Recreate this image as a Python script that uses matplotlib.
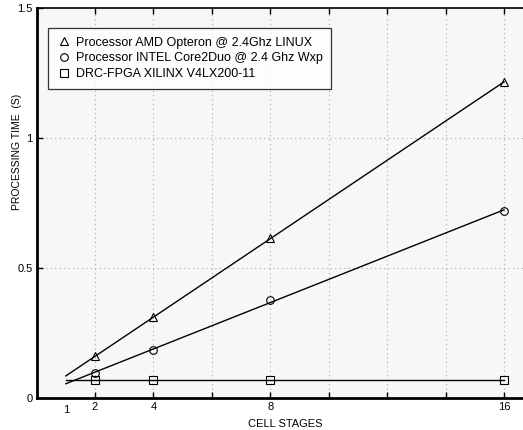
import numpy as np
import matplotlib.pyplot as plt

plt.rcParams['font.family'] = ['Liberation Sans', 'DejaVu Sans']

# cell stages and measured processing times (s)
stages = [2, 4, 8, 16]
amd_time = [0.16, 0.31, 0.615, 1.215]
intel_time = [0.097, 0.185, 0.377, 0.72]
fpga_time = [0.07, 0.07, 0.07, 0.07]

labels = ['Processor AMD Opteron @ 2.4Ghz LINUX',
          'Processor INTEL Core2Duo @ 2.4 Ghz Wxp',
          'DRC-FPGA XILINX V4LX200-11']
markers = ['^', 'o', 's']

fig = plt.figure(figsize=(5.23, 4.30), dpi=100)
ax = fig.add_axes([0.07, 0.0744, 0.9495, 0.907])
ax.set_facecolor('#f7f7f7')

xfit = np.array([1, 16])
for y, m, lab in zip([amd_time, intel_time, fpga_time], markers, labels):
    # least squares line through the points, drawn from 1 to 16 stages
    k, c = np.polyfit(stages, y, 1)
    ax.plot(xfit, k * xfit + c, color='black', lw=1)
    ax.plot(stages, y, linestyle='none', marker=m, markersize=5.5,
            markerfacecolor='none', markeredgecolor='black', mew=0.8, label=lab)

ax.set_xlim(0, 17)
ax.set_ylim(0, 1.5)

ax.set_xticks(np.arange(2, 17, 2))
ax.set_xticklabels(['2', '4', '', '8', '', '', '', '16'])
ax.set_xticks([1], minor=True)
ax.set_xticklabels(['1'], minor=True)
ax.tick_params(axis='x', which='minor', length=0, pad=5)
ax.set_yticks([0, 0.5, 1, 1.5])
ax.set_yticklabels(['0', '0.5', '1', '1.5'])
ax.tick_params(which='major', direction='in', length=4, width=1, top=True,
               labelsize=8, pad=3)
ax.tick_params(axis='x', which='minor', labelsize=8)

ax.grid(True, which='major', linestyle=(0, (1, 3)), color='#a8a8a8', lw=0.8)

for side in ['left', 'bottom']:
    ax.spines[side].set_linewidth(2)
ax.spines['top'].set_linewidth(1.2)
ax.spines['right'].set_visible(False)

ax.set_xlabel('CELL STAGES', fontsize=8, labelpad=3)
ax.set_ylabel('PROCESSING TIME  (S)', fontsize=7.5)
ax.yaxis.set_label_coords(-0.03, 0.63)

leg = ax.legend(loc='upper left', bbox_to_anchor=(0.023, 0.949),
                borderaxespad=0, fontsize=9,
                frameon=True, fancybox=False, edgecolor='black',
                handletextpad=0.3, borderpad=0.7, labelspacing=0.3,
                handlelength=1.2)
leg.get_frame().set_linewidth(0.9)
leg.get_frame().set_facecolor('white')

fig.savefig('out.png', dpi=100)
